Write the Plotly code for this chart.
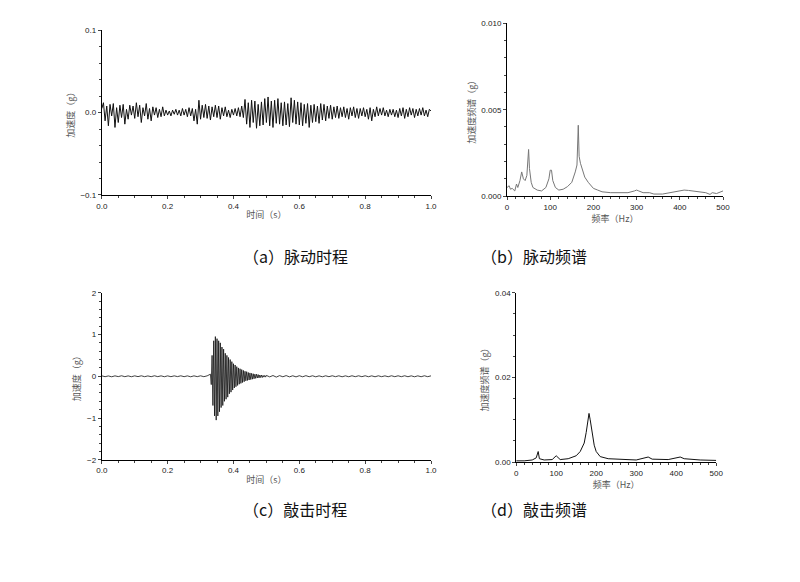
import numpy as np
import plotly.graph_objects as go

# (a) pulse time history, t = 0..1 s step 0.005
pulse_dt = 0.005
pulse_vals = [
0.005,0.012,-0.010,0.008,-0.016,0.010,-0.004,0.011,-0.018,0.006,-0.012,0.009,-0.006,0.010,-0.014,0.004,-0.008,0.009,-0.003,0.008,
-0.007,0.012,-0.005,0.009,-0.012,0.006,-0.004,0.011,-0.008,0.005,-0.010,0.007,-0.003,0.006,-0.006,0.004,-0.005,0.007,-0.004,0.003,
-0.003,0.002,-0.004,0.003,-0.002,0.004,-0.003,0.003,-0.004,0.005,-0.003,0.004,-0.005,0.006,-0.004,0.005,-0.010,0.004,-0.014,0.015,
-0.008,0.009,-0.006,0.010,-0.007,0.008,-0.009,0.007,-0.005,0.009,-0.006,0.008,-0.008,0.006,-0.004,0.007,-0.005,0.003,-0.006,0.004,
-0.003,0.005,-0.004,0.006,-0.005,0.008,-0.006,0.016,-0.014,0.012,-0.018,0.015,-0.012,0.014,-0.019,0.010,-0.016,0.013,-0.015,0.017,
-0.012,0.019,-0.016,0.014,-0.018,0.015,-0.013,0.017,-0.014,0.012,-0.016,0.013,-0.015,0.011,-0.017,0.018,-0.012,0.015,-0.014,0.013,
-0.015,0.012,-0.016,0.010,-0.013,0.011,-0.018,0.009,-0.012,0.010,-0.011,0.008,-0.013,0.011,-0.009,0.010,-0.010,0.008,-0.007,0.009,
-0.008,0.007,-0.006,0.008,-0.007,0.006,-0.005,0.007,-0.006,0.005,-0.008,0.006,-0.004,0.007,-0.006,0.005,-0.007,0.005,-0.004,0.006,
-0.005,0.004,-0.008,0.006,-0.010,0.004,-0.005,0.007,-0.004,0.005,-0.003,0.006,-0.004,0.003,-0.005,0.004,-0.003,0.004,-0.005,0.003,
-0.006,0.005,-0.004,0.006,-0.007,0.004,-0.005,0.006,-0.003,0.005,-0.006,0.004,-0.004,0.005,-0.003,0.006,-0.004,0.003,-0.005,0.004,
0.002]

# (b) pulse spectrum
pulse_freq = [0,5,8,12,18,22,25,30,34,38,42,46,50,52,56,60,70,80,90,97,100,103,106,112,120,130,140,150,158,162,165,167,170,175,180,188,195,200,210,220,240,260,280,295,300,305,315,330,340,360,380,400,410,420,440,460,470,475,485,495,500]
pulse_amp_e3 = [0.5,0.6,0.4,0.45,0.3,0.7,0.5,0.9,1.4,1.0,0.9,1.2,2.7,1.6,0.8,0.5,0.35,0.3,0.5,1.0,1.5,1.5,0.9,0.5,0.35,0.4,0.55,0.8,1.4,1.8,4.1,2.3,1.9,1.5,1.1,0.8,0.6,0.45,0.35,0.25,0.2,0.2,0.2,0.3,0.35,0.3,0.2,0.2,0.12,0.12,0.2,0.3,0.35,0.33,0.28,0.2,0.1,0.2,0.15,0.25,0.3]

# (c) impact time history
impact_pre_t0, impact_pre_dt = 0.0, 0.01
impact_pre = [0.01,-0.01,0.008,-0.012,0.01,-0.008,0.012,-0.01,0.009,-0.011,0.01,-0.009,0.011,-0.01,0.008,-0.01,0.012,-0.009,0.01,-0.011,0.009,-0.01,0.01,-0.008,0.011,-0.01,0.009,-0.012,0.01,-0.009,0.011,-0.01,0.01]
impact_hit_t0, impact_hit_dt = 0.33, 0.0025
impact_hit = [0.05,-0.2,0.5,-0.7,0.85,-0.95,0.95,-1.05,0.9,-0.95,0.85,-0.85,0.8,-0.75,0.7,-0.7,0.65,-0.6,0.55,-0.55,0.5,-0.5,0.45,-0.42,0.4,-0.38,0.35,-0.33,0.3,-0.28,0.27,-0.25,0.23,-0.22,0.2,-0.19,0.18,-0.17,0.16,-0.15,0.14,-0.13,0.12,-0.11,0.11,-0.1,0.09,-0.09,0.08,-0.08,0.07,-0.07,0.06,-0.06,0.05,-0.05,0.05,-0.04,0.04,-0.04,0.03,-0.03,0.03,-0.03,0.02,-0.02,0.02,-0.02]
impact_post_t0, impact_post_dt = 0.50, 0.01
impact_post = [0.02,-0.015,0.018,-0.02,0.015,-0.012,0.016,-0.014,0.012,-0.015,0.013,-0.012,0.014,-0.011,0.012,-0.013,0.01,-0.012,0.011,-0.01,0.012,-0.01,0.011,-0.012,0.01,-0.011,0.012,-0.01,0.011,-0.01,0.012,-0.011,0.01,-0.012,0.011,-0.01,0.01,-0.011,0.012,-0.01,0.011,-0.01,0.012,-0.011,0.01,-0.012,0.01,-0.011,0.012,-0.01,0.01]

# (d) impact spectrum
impact_freq = [0,20,40,50,55,58,70,90,100,105,110,130,150,160,170,175,180,182,185,190,195,200,210,230,260,300,330,340,380,410,420,460,500]
impact_amp_e3 = [0.3,0.3,0.5,1.0,2.5,0.8,0.5,0.6,1.5,1.0,0.6,0.8,1.5,2.5,4.5,7,10,11.5,10,6.5,4,2.5,1.3,0.8,0.6,0.5,1.2,0.7,0.6,1.2,0.8,0.5,0.4]

captions = ["（a）脉动时程", "（b）脉动频谱", "（c）敲击时程", "（d）敲击频谱"]

def seq(t0, dt, n):
    return [t0 + i * dt for i in range(n)]

pt = seq(0, pulse_dt, len(pulse_vals))
it = seq(impact_pre_t0, impact_pre_dt, len(impact_pre)) + seq(impact_hit_t0, impact_hit_dt, len(impact_hit)) + seq(impact_post_t0, impact_post_dt, len(impact_post))
iv = impact_pre + impact_hit + impact_post

fig = go.Figure()
fig.add_trace(go.Scatter(x=pt, y=pulse_vals, mode="lines", line=dict(color="#111", width=1), xaxis="x", yaxis="y"))
fig.add_trace(go.Scatter(x=pulse_freq, y=[v/1000 for v in pulse_amp_e3], mode="lines", line=dict(color="#777", width=1), xaxis="x2", yaxis="y2"))
fig.add_trace(go.Scatter(x=it, y=iv, mode="lines", line=dict(color="#111", width=0.8), xaxis="x3", yaxis="y3"))
fig.add_trace(go.Scatter(x=impact_freq, y=[v/1000 for v in impact_amp_e3], mode="lines", line=dict(color="#111", width=1), xaxis="x4", yaxis="y4"))

tf = dict(size=8, color="#222", family="Liberation Sans")
common = dict(showgrid=False, zeroline=False, showline=True, linecolor="#000", linewidth=1, ticks="outside", ticklen=3, tickfont=tf, minor=dict(ticks="outside", ticklen=2), automargin=False)
lab = dict(size=9, color="#555", family="Noto Sans CJK SC")

DX = 7/800
DY = 8/582
def xd(a, b): return [a - DX, b - DX]
def yd(a, b): return [a + DY, min(1.0, b + DY)]

L = dict(showlegend=False, width=800, height=582, margin=dict(l=0, r=0, t=0, b=0), plot_bgcolor="white", paper_bgcolor="white")
L["xaxis"] = dict(common, domain=xd(0.126, 0.5375), anchor="y", range=[0, 1], dtick=0.2, tickformat=".1f", title=dict(text="时间（s）", font=lab, standoff=2))
L["yaxis"] = dict(common, domain=yd(0.665, 0.948), anchor="x", range=[-0.1, 0.1], dtick=0.1, tickformat=".1f", title=dict(text="加速度（g）", font=lab, standoff=4))
L["xaxis2"] = dict(common, domain=xd(0.6325, 0.9025), anchor="y2", range=[0, 500], dtick=100, title=dict(text="频率（Hz）", font=lab, standoff=2))
L["yaxis2"] = dict(common, domain=yd(0.663, 0.960), anchor="x2", range=[0, 0.010], dtick=0.005, tickformat=".3f", title=dict(text="加速度频谱（g）", font=lab, standoff=4))
L["xaxis3"] = dict(common, domain=xd(0.126, 0.5375), anchor="y3", range=[0, 1], dtick=0.2, tickformat=".1f", title=dict(text="时间（s）", font=lab, standoff=2))
L["yaxis3"] = dict(common, domain=yd(0.210, 0.497), anchor="x3", range=[-2, 2], dtick=1, title=dict(text="加速度（g）", font=lab, standoff=4))
L["xaxis4"] = dict(common, domain=xd(0.644, 0.894), anchor="y4", range=[0, 500], dtick=100, title=dict(text="频率（Hz）", font=lab, standoff=2))
L["yaxis4"] = dict(common, domain=yd(0.206, 0.497), anchor="x4", range=[0, 0.04], dtick=0.02, tickformat=".2f", title=dict(text="加速度频谱（g）", font=lab, standoff=4))
fig.update_layout(**L)

cap_pos = [(0.30 - DX, 1-256/582 + DY), (0.735 - DX, 1-256/582 + DY), (0.30 - DX, 1-523/582 + DY), (0.735 - DX, 1-523/582 + DY)]
for c, (x, y) in zip(captions, cap_pos):
    fig.add_annotation(text=c, x=x, y=y, xref="paper", yref="paper", showarrow=False, font=dict(size=16, color="#111", family="Noto Sans CJK SC"))

fig.write_html("out.html")
